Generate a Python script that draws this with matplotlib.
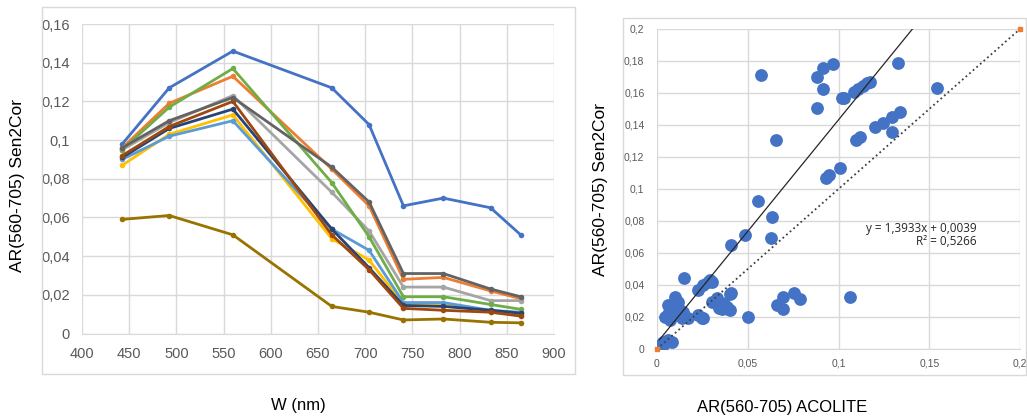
import numpy as np
import matplotlib
matplotlib.use('Agg')
import matplotlib.pyplot as plt
from matplotlib.patches import Rectangle
from matplotlib.ticker import FuncFormatter

# ---- left panel: spectra (W in nm) ----
wavelengths = [442.7, 492.4, 559.8, 664.6, 704.1, 740.5, 782.8, 832.8, 864.7]

s1 = [0.098, 0.127, 0.146, 0.127, 0.108, 0.066, 0.070, 0.065, 0.051]
s2 = [0.096, 0.119, 0.133, 0.085, 0.066, 0.028, 0.029, 0.022, 0.018]
s3 = [0.095, 0.109, 0.123, 0.073, 0.053, 0.024, 0.024, 0.017, 0.017]
s4 = [0.087, 0.103, 0.113, 0.049, 0.038, 0.015, 0.015, 0.011, 0.0095]
s5 = [0.090, 0.102, 0.110, 0.054, 0.043, 0.016, 0.016, 0.012, 0.011]
s6 = [0.095, 0.117, 0.137, 0.078, 0.050, 0.019, 0.019, 0.015, 0.0125]
s7 = [0.091, 0.106, 0.116, 0.054, 0.034, 0.0145, 0.014, 0.012, 0.0105]
s8 = [0.092, 0.107, 0.120, 0.051, 0.033, 0.013, 0.012, 0.011, 0.009]
s9 = [0.096, 0.110, 0.122, 0.086, 0.068, 0.031, 0.031, 0.023, 0.019]
s10 = [0.059, 0.061, 0.051, 0.014, 0.011, 0.007, 0.0075, 0.0058, 0.0055]

series = [s1, s2, s3, s4, s5, s6, s7, s8, s9, s10]
colors = ['#4472C4', '#ED7D31', '#A5A5A5', '#FFC000', '#5B9BD5',
          '#70AD47', '#264478', '#9E480E', '#636363', '#997300']

# ---- right panel: ACOLITE vs Sen2Cor ----
acolite = [0.0971, 0.0913, 0.0883, 0.0916, 0.0880, 0.1330, 0.1544, 0.1019, 0.1030,
           0.1085, 0.1110, 0.1133, 0.1159, 0.1174, 0.1339, 0.1293, 0.1243, 0.1201,
           0.1293, 0.1118, 0.1096, 0.1008, 0.0949, 0.0931, 0.0571, 0.0656, 0.0556,
           0.0632, 0.0626, 0.0485, 0.0406,
           0.0408, 0.0386, 0.0400, 0.0503, 0.0660, 0.0696, 0.0696, 0.0755, 0.0788,
           0.1063, 0.0356, 0.0393, 0.0402,
           0.0150, 0.0283, 0.0255, 0.0228, 0.0292, 0.0301,
           0.0099, 0.0117, 0.0062, 0.0081, 0.0044, 0.0136, 0.0108, 0.0072, 0.0145,
           0.0172, 0.0228, 0.0255, 0.0301, 0.0329, 0.0356, 0.0246, 0.0340, 0.0370,
           0.0090, 0.0120, 0.0060, 0.0100,
           0.0017, 0.0035, 0.0062, 0.0081, 0.0007, 0.0040]
sen2cor = [0.1780, 0.1754, 0.1700, 0.1627, 0.1508, 0.1786, 0.1633, 0.1567, 0.1570,
           0.1608, 0.1625, 0.1644, 0.1660, 0.1670, 0.1483, 0.1452, 0.1414, 0.1385,
           0.1358, 0.1327, 0.1306, 0.1133, 0.1088, 0.1070, 0.1710, 0.1306, 0.0925,
           0.0827, 0.0692, 0.0713, 0.0648,
           0.0348, 0.0260, 0.0244, 0.0198, 0.0275, 0.0327, 0.0248, 0.0348, 0.0312,
           0.0323, 0.0248, 0.0248, 0.0344,
           0.0446, 0.0420, 0.0400, 0.0369, 0.0431, 0.0420,
           0.0327, 0.0296, 0.0275, 0.0233, 0.0202, 0.0192, 0.0254, 0.0180, 0.0233,
           0.0192, 0.0213, 0.0192, 0.0296, 0.0317, 0.0286, 0.0192, 0.0255, 0.0280,
           0.0280, 0.0250, 0.0220, 0.0210,
           0.0025, 0.0046, 0.0056, 0.0046, 0.0014, 0.0030]

slope = 1.3933
intercept = 0.0039
r2 = 0.5266

GRID = '#D9D9D9'
TICK = '#595959'


def comma(v, pos):
    s = ('%.2f' % v).rstrip('0').rstrip('.')
    return s.replace('.', ',')


def style_axes(ax, size):
    for side in ['top', 'right', 'left']:
        ax.spines[side].set_visible(False)
    ax.spines['bottom'].set_color(GRID)
    ax.grid(True, color=GRID, linewidth=1)
    ax.set_axisbelow(True)
    ax.tick_params(length=0, labelsize=size, labelcolor=TICK)
    ax.xaxis.set_major_formatter(FuncFormatter(comma))
    ax.yaxis.set_major_formatter(FuncFormatter(comma))


fig = plt.figure(figsize=(10.27, 4.19), dpi=100)
plt.rcParams['font.family'] = ['Liberation Sans', 'DejaVu Sans']

# chart frames
fig.patches.append(Rectangle((42 / 1027, 1 - 374 / 419), 533 / 1027, 367 / 419,
                             transform=fig.transFigure, fill=False,
                             edgecolor='#D9D9D9', linewidth=1))
fig.patches.append(Rectangle((623 / 1027, 1 - 375 / 419), 403 / 1027, 357 / 419,
                             transform=fig.transFigure, fill=False,
                             edgecolor='#D9D9D9', linewidth=1))

ax1 = fig.add_axes([82 / 1027, 1 - 333.5 / 419, 472 / 1027, 309.5 / 419])
for vals, c in zip(series, colors):
    ax1.plot(wavelengths, vals, color=c, linewidth=2, marker='o',
             markersize=4, markeredgewidth=0)
ax1.set_xlim(400, 900)
ax1.set_ylim(0, 0.16)
ax1.set_xticks(np.arange(400, 901, 50))
ax1.set_yticks(np.arange(0, 0.161, 0.02))
style_axes(ax1, 10.5)
ax1.xaxis.set_major_formatter(FuncFormatter(lambda v, p: '%d' % v))
ax1.tick_params(axis='x', pad=10)
ax1.tick_params(axis='y', pad=9)

ax2 = fig.add_axes([657 / 1027, 1 - 349 / 419, 363 / 1027, 320 / 419])
ax2.scatter(acolite, sen2cor, s=85, color='#4472C4', linewidths=0, zorder=3)
xl = np.array([0.0013, max(acolite)])
ax2.plot(xl, slope * xl + intercept, color='#262626', linewidth=0.9, zorder=4)
ax2.plot([0, 0.2], [0, 0.2], color='#404040', linestyle=':', linewidth=1.3,
         marker='s', markersize=3.5, markerfacecolor='#ED7D31',
         markeredgecolor='#ED7D31', zorder=4, clip_on=False)
ax2.set_xlim(0, 0.2)
ax2.set_ylim(0, 0.2)
ax2.set_xticks(np.arange(0, 0.201, 0.05))
ax2.set_yticks(np.arange(0, 0.201, 0.02))
style_axes(ax2, 7.5)
ax2.tick_params(axis='x', pad=7)
ax2.tick_params(axis='y', pad=9)
ax2.text(0.1763, 0.0756, 'y = 1,3933x + 0,0039', fontsize=8.5, ha='right',
         va='center', color='#262626', family=['Open Sans', 'DejaVu Sans'])
ax2.text(0.1763, 0.0669, 'R² = 0,5266', fontsize=8.5, ha='right',
         va='center', color='#262626', family=['Open Sans', 'DejaVu Sans'])

# axis titles
fig.text(18 / 1027, 1 - 185 / 419, 'AR(560-705) Sen2Cor', rotation=90,
         ha='center', va='center', fontsize=12.5)
fig.text(298 / 1027, 1 - 405 / 419, 'W (nm)', ha='center', va='center',
         fontsize=12)
fig.text(600 / 1027, 1 - 190 / 419, 'AR(560-705) Sen2Cor', rotation=90,
         ha='center', va='center', fontsize=12.5)
fig.text(782 / 1027, 1 - 407 / 419, 'AR(560-705) ACOLITE', ha='center',
         va='center', fontsize=12)

fig.savefig('out.png', dpi=100)
